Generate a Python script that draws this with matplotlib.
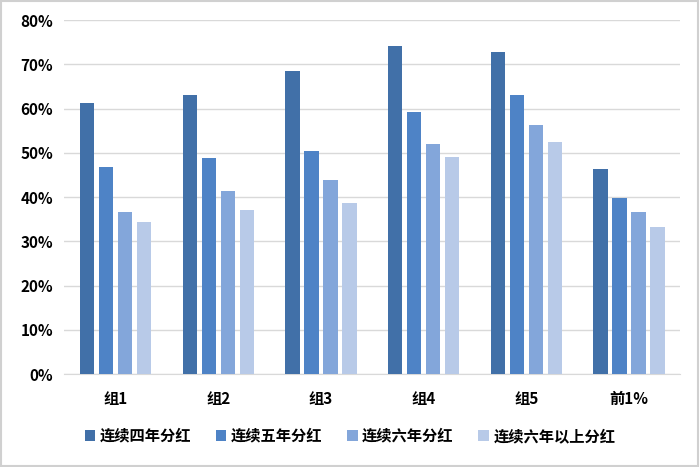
import numpy as np
import matplotlib
matplotlib.use('Agg')
import matplotlib.pyplot as plt
from matplotlib.patches import Rectangle

plt.rcParams['font.family'] = ['Noto Sans CJK SC', 'DejaVu Sans']

categories = ['组1', '组2', '组3', '组4', '组5', '前1%']
series_names = ['连续四年分红', '连续五年分红', '连续六年分红', '连续六年以上分红']
four_years = [61.3, 63.1, 68.6, 74.2, 72.8, 46.4]
five_years = [46.9, 48.8, 50.5, 59.2, 63.1, 39.8]
six_years = [36.7, 41.3, 43.8, 52.0, 56.4, 36.6]
six_plus = [34.3, 37.1, 38.7, 49.0, 52.4, 33.3]
colors = ['#4170A8', '#4E83C6', '#83A6DA', '#B8CAE8']

fig = plt.figure(figsize=(7, 4.67), dpi=100)
ax = fig.add_axes([0.092, 0.199, 0.88, 0.758])

x = np.arange(len(categories))
w = 0.14
gap = 0.185
for i, (vals, name) in enumerate(zip([four_years, five_years, six_years, six_plus], series_names)):
    ax.bar(x + (i - 1.5) * gap, vals, width=w, color=colors[i], label=name, zorder=3)

ax.set_xlim(-0.5, len(categories) - 0.5)
ax.set_ylim(0, 80)
ax.set_yticks(range(0, 81, 10))
ax.set_yticklabels([f'{v}%' for v in range(0, 81, 10)], fontsize=11, fontweight='bold')
ax.set_xticks(x)
ax.set_xticklabels(categories, fontsize=11, fontweight='bold')
ax.tick_params(length=0, pad=8)
ax.tick_params(axis='x', pad=12)
ax.grid(axis='y', color='#D9D9D9', linewidth=1, zorder=0)
for s in ['top', 'right', 'left']:
    ax.spines[s].set_visible(False)
ax.spines['bottom'].set_color('#D9D9D9')

leg = fig.legend(loc='lower center', bbox_to_anchor=(0.5, 0.02), ncol=4, frameon=False,
                 prop={'size': 11, 'weight': 'bold'}, handlelength=0.7, handleheight=0.7,
                 handletextpad=0.3, columnspacing=1.6)

fig.patches.append(Rectangle((0.002, 0.003), 0.995, 0.994, transform=fig.transFigure,
                             fill=False, edgecolor='#D0D0D0', linewidth=1.5))
fig.savefig('out.png', dpi=100)
